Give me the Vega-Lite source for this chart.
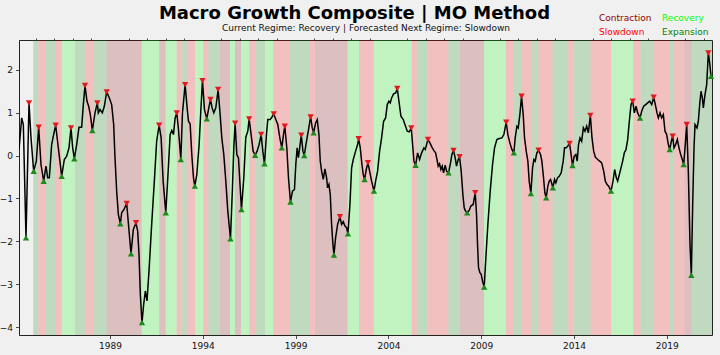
{
  "$schema": "https://vega.github.io/schema/vega-lite/v6.json",
  "width": 693,
  "height": 295,
  "autosize": {"type": "none"},
  "padding": {"left": 19, "top": 40, "right": 8, "bottom": 20},
  "background": "#f0f0f0",
  "title": {
    "text": "Macro Growth Composite | MO Method",
    "font": "DejaVu Sans",
    "fontSize": 18,
    "fontWeight": "bold",
    "color": "#000000",
    "anchor": "middle",
    "frame": "group",
    "dx": -11,
    "offset": -10
  },
  "resolve": {"axis": {"x": "independent"}},
  "datasets": {
    "bands": [
      {"s": 1984.867, "e": 1985.137, "r": "Expansion"},
      {"s": 1985.137, "e": 1985.498, "r": "Slowdown"},
      {"s": 1985.498, "e": 1986.037, "r": "Expansion"},
      {"s": 1986.037, "e": 1986.398, "r": "Slowdown"},
      {"s": 1986.398, "e": 1987.114, "r": "Recovery"},
      {"s": 1987.114, "e": 1987.653, "r": "Expansion"},
      {"s": 1987.653, "e": 1988.100, "r": "Slowdown"},
      {"s": 1988.100, "e": 1988.822, "r": "Expansion"},
      {"s": 1988.822, "e": 1990.708, "r": "Contraction"},
      {"s": 1990.708, "e": 1991.656, "r": "Recovery"},
      {"s": 1991.656, "e": 1992.001, "r": "Contraction"},
      {"s": 1992.001, "e": 1992.594, "r": "Recovery"},
      {"s": 1992.594, "e": 1992.863, "r": "Slowdown"},
      {"s": 1992.863, "e": 1993.133, "r": "Expansion"},
      {"s": 1993.133, "e": 1993.580, "r": "Slowdown"},
      {"s": 1993.580, "e": 1994.027, "r": "Recovery"},
      {"s": 1994.027, "e": 1994.296, "r": "Slowdown"},
      {"s": 1994.296, "e": 1994.927, "r": "Expansion"},
      {"s": 1994.927, "e": 1995.466, "r": "Contraction"},
      {"s": 1995.466, "e": 1995.735, "r": "Recovery"},
      {"s": 1995.735, "e": 1996.058, "r": "Contraction"},
      {"s": 1996.058, "e": 1996.505, "r": "Recovery"},
      {"s": 1996.505, "e": 1996.813, "r": "Slowdown"},
      {"s": 1996.813, "e": 1997.351, "r": "Expansion"},
      {"s": 1997.351, "e": 1997.799, "r": "Recovery"},
      {"s": 1997.799, "e": 1998.698, "r": "Slowdown"},
      {"s": 1998.698, "e": 1999.776, "r": "Expansion"},
      {"s": 1999.776, "e": 2000.045, "r": "Slowdown"},
      {"s": 2000.045, "e": 2001.807, "r": "Contraction"},
      {"s": 2001.807, "e": 2002.416, "r": "Recovery"},
      {"s": 2002.416, "e": 2003.213, "r": "Slowdown"},
      {"s": 2003.213, "e": 2005.255, "r": "Recovery"},
      {"s": 2005.255, "e": 2005.525, "r": "Slowdown"},
      {"s": 2005.525, "e": 2006.107, "r": "Expansion"},
      {"s": 2006.107, "e": 2007.227, "r": "Slowdown"},
      {"s": 2007.227, "e": 2007.858, "r": "Expansion"},
      {"s": 2007.858, "e": 2009.151, "r": "Contraction"},
      {"s": 2009.151, "e": 2010.336, "r": "Recovery"},
      {"s": 2010.336, "e": 2010.740, "r": "Slowdown"},
      {"s": 2010.740, "e": 2011.182, "r": "Expansion"},
      {"s": 2011.182, "e": 2011.683, "r": "Slowdown"},
      {"s": 2011.683, "e": 2012.077, "r": "Expansion"},
      {"s": 2012.077, "e": 2012.842, "r": "Slowdown"},
      {"s": 2012.842, "e": 2013.693, "r": "Expansion"},
      {"s": 2013.693, "e": 2013.973, "r": "Slowdown"},
      {"s": 2013.973, "e": 2014.889, "r": "Expansion"},
      {"s": 2014.889, "e": 2015.994, "r": "Slowdown"},
      {"s": 2015.994, "e": 2017.195, "r": "Recovery"},
      {"s": 2017.195, "e": 2017.583, "r": "Slowdown"},
      {"s": 2017.583, "e": 2018.294, "r": "Expansion"},
      {"s": 2018.294, "e": 2019.172, "r": "Slowdown"},
      {"s": 2019.172, "e": 2019.399, "r": "Expansion"},
      {"s": 2019.399, "e": 2019.954, "r": "Slowdown"},
      {"s": 2019.954, "e": 2020.331, "r": "Contraction"},
      {"s": 2020.331, "e": 2021.435, "r": "Expansion"}
    ],
    "series": [
      {"t": 1984.097, "v": 0.14},
      {"t": 1984.241, "v": 0.876},
      {"t": 1984.33, "v": 0.72},
      {"t": 1984.474, "v": -1.915, "m": "T"},
      {"t": 1984.636, "v": 1.225, "m": "P"},
      {"t": 1984.744, "v": 0.41},
      {"t": 1984.887, "v": -0.364, "m": "T"},
      {"t": 1985.031, "v": -0.13},
      {"t": 1985.157, "v": 0.659, "m": "P"},
      {"t": 1985.282, "v": -0.21},
      {"t": 1985.426, "v": -0.597, "m": "T"},
      {"t": 1985.552, "v": -0.248},
      {"t": 1985.642, "v": -0.519},
      {"t": 1985.731, "v": -0.519},
      {"t": 1985.857, "v": 0.256},
      {"t": 1985.947, "v": 0.45},
      {"t": 1986.073, "v": 0.705, "m": "P"},
      {"t": 1986.216, "v": 0.178},
      {"t": 1986.396, "v": -0.481, "m": "T"},
      {"t": 1986.539, "v": -0.093},
      {"t": 1986.665, "v": -0.016},
      {"t": 1986.791, "v": 0.178},
      {"t": 1986.899, "v": 0.643, "m": "P"},
      {"t": 1986.989, "v": 0.178},
      {"t": 1987.078, "v": -0.078, "m": "T"},
      {"t": 1987.204, "v": 0.256},
      {"t": 1987.33, "v": 0.659},
      {"t": 1987.473, "v": 0.659},
      {"t": 1987.563, "v": 1.186},
      {"t": 1987.653, "v": 1.628, "m": "P"},
      {"t": 1987.761, "v": 1.264},
      {"t": 1987.851, "v": 1.147},
      {"t": 1987.94, "v": 0.953},
      {"t": 1988.048, "v": 0.581, "m": "T"},
      {"t": 1988.192, "v": 0.992},
      {"t": 1988.318, "v": 1.225, "m": "P"},
      {"t": 1988.371, "v": 0.992},
      {"t": 1988.461, "v": 1.07},
      {"t": 1988.587, "v": 0.992},
      {"t": 1988.695, "v": 1.147},
      {"t": 1988.82, "v": 1.481, "m": "P"},
      {"t": 1988.964, "v": 1.341},
      {"t": 1989.09, "v": 1.186},
      {"t": 1989.198, "v": 0.721},
      {"t": 1989.269, "v": -0.054},
      {"t": 1989.359, "v": -0.829},
      {"t": 1989.449, "v": -1.372},
      {"t": 1989.557, "v": -1.589, "m": "T"},
      {"t": 1989.629, "v": -1.333},
      {"t": 1989.754, "v": -1.256},
      {"t": 1989.898, "v": -1.116, "m": "P"},
      {"t": 1989.988, "v": -1.566},
      {"t": 1990.131, "v": -2.287, "m": "T"},
      {"t": 1990.257, "v": -1.721},
      {"t": 1990.401, "v": -1.566, "m": "P"},
      {"t": 1990.491, "v": -1.76},
      {"t": 1990.563, "v": -2.302},
      {"t": 1990.634, "v": -3.233},
      {"t": 1990.724, "v": -3.891, "m": "T"},
      {"t": 1990.814, "v": -3.465},
      {"t": 1990.904, "v": -3.155},
      {"t": 1990.994, "v": -3.388},
      {"t": 1991.101, "v": -2.69},
      {"t": 1991.245, "v": -1.605},
      {"t": 1991.389, "v": -0.597},
      {"t": 1991.514, "v": 0.333},
      {"t": 1991.647, "v": 0.705, "m": "P"},
      {"t": 1991.755, "v": 0.411},
      {"t": 1991.863, "v": -0.597},
      {"t": 1992.006, "v": -1.333, "m": "T"},
      {"t": 1992.114, "v": -0.519},
      {"t": 1992.24, "v": 0.488},
      {"t": 1992.33, "v": 0.581},
      {"t": 1992.42, "v": 0.488},
      {"t": 1992.509, "v": 0.876},
      {"t": 1992.599, "v": 0.992, "m": "P"},
      {"t": 1992.689, "v": 0.605},
      {"t": 1992.815, "v": -0.093, "m": "T"},
      {"t": 1992.904, "v": 0.992},
      {"t": 1993.048, "v": 1.651, "m": "P"},
      {"t": 1993.156, "v": 1.109},
      {"t": 1993.228, "v": 0.798},
      {"t": 1993.318, "v": 0.736},
      {"t": 1993.407, "v": 0.023},
      {"t": 1993.497, "v": -0.519},
      {"t": 1993.569, "v": -0.713, "m": "T"},
      {"t": 1993.677, "v": -0.442},
      {"t": 1993.802, "v": 0.256},
      {"t": 1993.892, "v": 1.031},
      {"t": 1993.982, "v": 1.744, "m": "P"},
      {"t": 1994.09, "v": 1.07},
      {"t": 1994.216, "v": 0.853, "m": "T"},
      {"t": 1994.305, "v": 1.07},
      {"t": 1994.413, "v": 1.302, "m": "P"},
      {"t": 1994.503, "v": 1.109},
      {"t": 1994.593, "v": 0.992},
      {"t": 1994.7, "v": 1.109},
      {"t": 1994.826, "v": 1.535, "m": "P"},
      {"t": 1994.934, "v": 0.953},
      {"t": 1995.024, "v": 0.411},
      {"t": 1995.131, "v": 0.023},
      {"t": 1995.239, "v": -0.597},
      {"t": 1995.347, "v": -1.295},
      {"t": 1995.491, "v": -1.938, "m": "T"},
      {"t": 1995.598, "v": -0.752},
      {"t": 1995.67, "v": 0.178},
      {"t": 1995.742, "v": 0.752, "m": "P"},
      {"t": 1995.832, "v": 0.023},
      {"t": 1995.922, "v": -0.054},
      {"t": 1995.994, "v": -0.597},
      {"t": 1996.083, "v": -1.256, "m": "T"},
      {"t": 1996.209, "v": -0.519},
      {"t": 1996.317, "v": 0.426},
      {"t": 1996.425, "v": 0.566},
      {"t": 1996.496, "v": 0.853, "m": "P"},
      {"t": 1996.604, "v": 0.488},
      {"t": 1996.712, "v": 0.101},
      {"t": 1996.82, "v": 0.008, "m": "T"},
      {"t": 1996.927, "v": 0.101},
      {"t": 1997.035, "v": 0.256},
      {"t": 1997.143, "v": 0.488, "m": "P"},
      {"t": 1997.233, "v": 0.101},
      {"t": 1997.323, "v": -0.194, "m": "T"},
      {"t": 1997.43, "v": 0.488},
      {"t": 1997.502, "v": 0.837},
      {"t": 1997.628, "v": 0.837},
      {"t": 1997.718, "v": 0.891},
      {"t": 1997.825, "v": 0.969, "m": "P"},
      {"t": 1997.933, "v": 0.837},
      {"t": 1998.041, "v": 0.721},
      {"t": 1998.149, "v": 0.411},
      {"t": 1998.256, "v": 0.178, "m": "T"},
      {"t": 1998.346, "v": 0.488},
      {"t": 1998.418, "v": 0.682, "m": "P"},
      {"t": 1998.526, "v": 0.178},
      {"t": 1998.616, "v": -0.519},
      {"t": 1998.723, "v": -1.085, "m": "T"},
      {"t": 1998.831, "v": -0.829},
      {"t": 1998.939, "v": -0.791},
      {"t": 1999.011, "v": -0.209},
      {"t": 1999.083, "v": 0.178},
      {"t": 1999.15, "v": -0.05},
      {"t": 1999.22, "v": 0.18},
      {"t": 1999.305, "v": 0.473, "m": "P"},
      {"t": 1999.395, "v": 0.101},
      {"t": 1999.467, "v": 0.0, "m": "T"},
      {"t": 1999.557, "v": 0.256},
      {"t": 1999.682, "v": 0.566},
      {"t": 1999.808, "v": 0.899, "m": "P"},
      {"t": 1999.898, "v": 0.643},
      {"t": 1999.97, "v": 0.527, "m": "T"},
      {"t": 2000.078, "v": 0.76},
      {"t": 2000.167, "v": 0.837},
      {"t": 2000.257, "v": 0.488},
      {"t": 2000.329, "v": -0.132},
      {"t": 2000.401, "v": -0.364},
      {"t": 2000.491, "v": -0.558},
      {"t": 2000.58, "v": -0.31},
      {"t": 2000.67, "v": -0.519},
      {"t": 2000.724, "v": -0.752},
      {"t": 2000.796, "v": -0.674},
      {"t": 2000.868, "v": -0.907},
      {"t": 2000.94, "v": -1.605},
      {"t": 2001.011, "v": -2.07},
      {"t": 2001.065, "v": -2.318, "m": "T"},
      {"t": 2001.155, "v": -1.915},
      {"t": 2001.263, "v": -1.605},
      {"t": 2001.389, "v": -1.426, "m": "P"},
      {"t": 2001.478, "v": -1.605},
      {"t": 2001.568, "v": -1.543},
      {"t": 2001.658, "v": -1.643},
      {"t": 2001.748, "v": -1.682},
      {"t": 2001.82, "v": -1.822, "m": "T"},
      {"t": 2001.927, "v": -1.14},
      {"t": 2002.017, "v": -0.287},
      {"t": 2002.107, "v": -0.093},
      {"t": 2002.233, "v": 0.101},
      {"t": 2002.341, "v": 0.256},
      {"t": 2002.394, "v": 0.388, "m": "P"},
      {"t": 2002.484, "v": 0.178},
      {"t": 2002.574, "v": -0.209},
      {"t": 2002.646, "v": -0.442},
      {"t": 2002.718, "v": -0.558, "m": "T"},
      {"t": 2002.807, "v": -0.326},
      {"t": 2002.897, "v": -0.171, "m": "P"},
      {"t": 2002.987, "v": -0.364},
      {"t": 2003.095, "v": -0.597},
      {"t": 2003.221, "v": -0.829, "m": "T"},
      {"t": 2003.31, "v": -0.597},
      {"t": 2003.418, "v": -0.364},
      {"t": 2003.526, "v": 0.101},
      {"t": 2003.634, "v": 0.411},
      {"t": 2003.741, "v": 0.798},
      {"t": 2003.849, "v": 0.876},
      {"t": 2003.939, "v": 1.186},
      {"t": 2004.029, "v": 1.264},
      {"t": 2004.101, "v": 1.225},
      {"t": 2004.172, "v": 1.341},
      {"t": 2004.28, "v": 1.434},
      {"t": 2004.388, "v": 1.457},
      {"t": 2004.478, "v": 1.558, "m": "P"},
      {"t": 2004.568, "v": 1.264},
      {"t": 2004.675, "v": 0.915},
      {"t": 2004.801, "v": 0.837},
      {"t": 2004.891, "v": 0.721},
      {"t": 2005.016, "v": 0.566},
      {"t": 2005.124, "v": 0.55},
      {"t": 2005.232, "v": 0.643, "m": "P"},
      {"t": 2005.304, "v": 0.256},
      {"t": 2005.376, "v": -0.132},
      {"t": 2005.466, "v": -0.225, "m": "T"},
      {"t": 2005.573, "v": 0.062},
      {"t": 2005.681, "v": -0.093},
      {"t": 2005.789, "v": 0.062},
      {"t": 2005.914, "v": 0.178},
      {"t": 2005.986, "v": 0.14},
      {"t": 2006.13, "v": 0.372, "m": "P"},
      {"t": 2006.238, "v": 0.295},
      {"t": 2006.364, "v": 0.178},
      {"t": 2006.471, "v": 0.101},
      {"t": 2006.543, "v": 0.062},
      {"t": 2006.62, "v": -0.1},
      {"t": 2006.683, "v": -0.248},
      {"t": 2006.755, "v": -0.194},
      {"t": 2006.827, "v": -0.326},
      {"t": 2006.899, "v": -0.248},
      {"t": 2006.971, "v": -0.403},
      {"t": 2007.06, "v": -0.225},
      {"t": 2007.132, "v": -0.364},
      {"t": 2007.24, "v": -0.403, "m": "T"},
      {"t": 2007.348, "v": -0.171},
      {"t": 2007.42, "v": 0.023},
      {"t": 2007.509, "v": 0.116, "m": "P"},
      {"t": 2007.599, "v": -0.054},
      {"t": 2007.671, "v": -0.248},
      {"t": 2007.761, "v": -0.093},
      {"t": 2007.833, "v": -0.031, "m": "P"},
      {"t": 2007.922, "v": -0.364},
      {"t": 2008.012, "v": -0.907},
      {"t": 2008.084, "v": -1.217},
      {"t": 2008.156, "v": -1.295},
      {"t": 2008.246, "v": -1.333, "m": "T"},
      {"t": 2008.353, "v": -1.279},
      {"t": 2008.443, "v": -1.178},
      {"t": 2008.569, "v": -1.14},
      {"t": 2008.677, "v": -0.868, "m": "P"},
      {"t": 2008.749, "v": -1.372},
      {"t": 2008.802, "v": -2.07},
      {"t": 2008.856, "v": -2.612},
      {"t": 2008.928, "v": -2.729},
      {"t": 2009.0, "v": -2.767},
      {"t": 2009.09, "v": -2.961},
      {"t": 2009.162, "v": -3.062, "m": "T"},
      {"t": 2009.251, "v": -2.38},
      {"t": 2009.359, "v": -1.605},
      {"t": 2009.485, "v": -0.829},
      {"t": 2009.611, "v": -0.209},
      {"t": 2009.718, "v": 0.178},
      {"t": 2009.844, "v": 0.372},
      {"t": 2009.97, "v": 0.395},
      {"t": 2010.113, "v": 0.411},
      {"t": 2010.221, "v": 0.488},
      {"t": 2010.347, "v": 0.775, "m": "P"},
      {"t": 2010.437, "v": 0.488},
      {"t": 2010.545, "v": 0.295},
      {"t": 2010.652, "v": 0.14},
      {"t": 2010.76, "v": 0.062, "m": "T"},
      {"t": 2010.832, "v": 0.411},
      {"t": 2010.922, "v": 0.682},
      {"t": 2010.994, "v": 0.643},
      {"t": 2011.083, "v": 0.953},
      {"t": 2011.173, "v": 1.38, "m": "P"},
      {"t": 2011.263, "v": 0.953},
      {"t": 2011.335, "v": 0.411},
      {"t": 2011.425, "v": 0.101},
      {"t": 2011.514, "v": -0.132},
      {"t": 2011.586, "v": -0.597},
      {"t": 2011.676, "v": -0.884, "m": "T"},
      {"t": 2011.766, "v": -0.287},
      {"t": 2011.838, "v": -0.093},
      {"t": 2011.909, "v": -0.132},
      {"t": 2011.999, "v": 0.062},
      {"t": 2012.089, "v": 0.124, "m": "P"},
      {"t": 2012.197, "v": 0.023},
      {"t": 2012.269, "v": -0.132},
      {"t": 2012.358, "v": -0.519},
      {"t": 2012.43, "v": -0.868},
      {"t": 2012.502, "v": -0.984, "m": "T"},
      {"t": 2012.592, "v": -0.713},
      {"t": 2012.664, "v": -0.597},
      {"t": 2012.736, "v": -0.558},
      {"t": 2012.79, "v": -0.636},
      {"t": 2012.861, "v": -0.752, "m": "T"},
      {"t": 2012.951, "v": -0.558},
      {"t": 2013.023, "v": -0.636},
      {"t": 2013.113, "v": -0.519},
      {"t": 2013.203, "v": -0.481},
      {"t": 2013.31, "v": -0.403},
      {"t": 2013.418, "v": -0.132},
      {"t": 2013.49, "v": 0.178},
      {"t": 2013.58, "v": 0.178},
      {"t": 2013.652, "v": 0.217},
      {"t": 2013.759, "v": 0.279, "m": "P"},
      {"t": 2013.831, "v": 0.062},
      {"t": 2013.921, "v": -0.233, "m": "T"},
      {"t": 2014.011, "v": -0.016},
      {"t": 2014.101, "v": 0.023},
      {"t": 2014.172, "v": -0.132},
      {"t": 2014.244, "v": 0.256},
      {"t": 2014.323, "v": 0.411},
      {"t": 2014.413, "v": 0.333},
      {"t": 2014.503, "v": 0.643},
      {"t": 2014.593, "v": 0.566},
      {"t": 2014.683, "v": 0.682},
      {"t": 2014.772, "v": 0.527},
      {"t": 2014.88, "v": 0.93, "m": "P"},
      {"t": 2014.97, "v": 0.411},
      {"t": 2015.06, "v": 0.101},
      {"t": 2015.15, "v": -0.039},
      {"t": 2015.275, "v": -0.093},
      {"t": 2015.383, "v": -0.132},
      {"t": 2015.491, "v": -0.171},
      {"t": 2015.599, "v": -0.364},
      {"t": 2015.688, "v": -0.597},
      {"t": 2015.778, "v": -0.674},
      {"t": 2015.868, "v": -0.713},
      {"t": 2015.994, "v": -0.829, "m": "T"},
      {"t": 2016.101, "v": -0.597},
      {"t": 2016.191, "v": -0.326},
      {"t": 2016.281, "v": -0.519},
      {"t": 2016.353, "v": -0.597},
      {"t": 2016.443, "v": -0.442},
      {"t": 2016.532, "v": -0.287},
      {"t": 2016.622, "v": -0.132},
      {"t": 2016.712, "v": 0.062},
      {"t": 2016.802, "v": 0.14},
      {"t": 2016.892, "v": 0.372},
      {"t": 2016.981, "v": 0.798},
      {"t": 2017.071, "v": 1.186},
      {"t": 2017.161, "v": 1.264, "m": "P"},
      {"t": 2017.251, "v": 0.992},
      {"t": 2017.341, "v": 1.147},
      {"t": 2017.43, "v": 0.992},
      {"t": 2017.556, "v": 0.876, "m": "T"},
      {"t": 2017.646, "v": 1.031},
      {"t": 2017.754, "v": 1.147},
      {"t": 2017.862, "v": 1.186},
      {"t": 2017.969, "v": 1.225},
      {"t": 2018.077, "v": 1.264},
      {"t": 2018.185, "v": 1.186},
      {"t": 2018.292, "v": 1.357, "m": "P"},
      {"t": 2018.382, "v": 1.186},
      {"t": 2018.472, "v": 0.992},
      {"t": 2018.544, "v": 0.876},
      {"t": 2018.634, "v": 0.992},
      {"t": 2018.723, "v": 0.876},
      {"t": 2018.813, "v": 0.953},
      {"t": 2018.903, "v": 0.566},
      {"t": 2018.993, "v": 0.488},
      {"t": 2019.083, "v": 0.256},
      {"t": 2019.155, "v": 0.14, "m": "T"},
      {"t": 2019.245, "v": 0.333},
      {"t": 2019.316, "v": 0.45, "m": "P"},
      {"t": 2019.388, "v": 0.178},
      {"t": 2019.478, "v": 0.256},
      {"t": 2019.568, "v": 0.372},
      {"t": 2019.657, "v": 0.178},
      {"t": 2019.747, "v": 0.023},
      {"t": 2019.837, "v": -0.093},
      {"t": 2019.909, "v": -0.209, "m": "T"},
      {"t": 2019.981, "v": 0.178},
      {"t": 2020.071, "v": 0.721, "m": "P"},
      {"t": 2020.16, "v": -0.364},
      {"t": 2020.25, "v": -2.07},
      {"t": 2020.322, "v": -2.791, "m": "T"},
      {"t": 2020.394, "v": -1.14},
      {"t": 2020.466, "v": 0.178},
      {"t": 2020.52, "v": 0.721},
      {"t": 2020.627, "v": 0.643},
      {"t": 2020.699, "v": 0.798},
      {"t": 2020.771, "v": 1.186},
      {"t": 2020.843, "v": 1.496},
      {"t": 2020.915, "v": 1.341},
      {"t": 2020.969, "v": 1.109},
      {"t": 2021.058, "v": 1.419},
      {"t": 2021.148, "v": 1.651},
      {"t": 2021.238, "v": 2.388, "m": "P"},
      {"t": 2021.31, "v": 2.155},
      {"t": 2021.382, "v": 1.845, "m": "T"}
    ]
  },
  "layer": [
    {
      "data": {"name": "bands"},
      "mark": {"type": "rect", "opacity": 0.2, "clip": true},
      "encoding": {
        "x": {
          "field": "s",
          "type": "quantitative",
          "title": null,
          "scale": {"domain": [1984.097, 2021.435], "nice": false, "zero": false},
          "axis": {
            "values": [1989, 1994, 1999, 2004, 2009, 2014, 2019],
            "format": "d",
            "tickSize": 3.5,
            "labelPadding": 3,
            "labelFlush": false,
            "labelOverlap": false
          }
        },
        "x2": {"field": "e"},
        "color": {
          "field": "r",
          "type": "nominal",
          "scale": {
            "domain": ["Contraction", "Slowdown", "Recovery", "Expansion"],
            "range": ["#8b0000", "#ff0000", "#00ff00", "#008000"]
          },
          "legend": {
            "title": null,
            "orient": "none",
            "legendX": 571,
            "legendY": -27,
            "columns": 2,
            "symbolSize": 0,
            "symbolOpacity": 0,
            "symbolStrokeWidth": 0,
            "labelOffset": 0,
            "labelFont": "DejaVu Sans",
            "labelFontSize": 9,
            "columnPadding": 1,
            "rowPadding": 4,
            "encode": {
              "labels": {"update": {"fill": {"scale": "color", "field": "value"}}}
            }
          }
        }
      }
    },
    {
      "mark": {"type": "rule", "color": "#808080", "strokeWidth": 1, "strokeDash": [4, 3]},
      "encoding": {"y": {"datum": 0, "type": "quantitative"}}
    },
    {
      "data": {"name": "series"},
      "mark": {"type": "line", "color": "#000000", "strokeWidth": 1.5, "clip": true},
      "encoding": {
        "x": {
          "field": "t",
          "type": "quantitative",
          "title": null,
          "axis": {
            "values": [1985, 1986, 1987, 1988, 1990, 1991, 1992, 1993, 1995, 1996, 1997, 1998, 2000, 2001, 2002, 2003, 2005, 2006, 2007, 2008, 2010, 2011, 2012, 2013, 2015, 2016, 2017, 2018, 2020, 2021],
            "labels": false,
            "tickSize": 2
          }
        },
        "y": {
          "field": "v",
          "type": "quantitative",
          "title": null,
          "scale": {"domain": [-4.18, 2.69], "nice": false, "zero": false},
          "axis": {"values": [-4, -3, -2, -1, 0, 1, 2], "format": "d", "tickSize": 3.5, "labelPadding": 3}
        }
      }
    },
    {
      "data": {"name": "series"},
      "transform": [{"filter": "datum.m == 'P'"}],
      "mark": {"type": "point", "shape": "triangle-down", "filled": true, "color": "#e3181e", "size": 40, "opacity": 1},
      "encoding": {
        "x": {
          "field": "t",
          "type": "quantitative",
          "axis": {
            "orient": "top",
            "title": "Current Regime: Recovery | Forecasted Next Regime: Slowdown",
            "labels": false,
            "ticks": false,
            "domain": false,
            "titleFont": "DejaVu Sans",
            "titleFontSize": 9,
            "titleFontWeight": "normal",
            "titleColor": "#111111",
            "titlePadding": 8
          }
        },
        "y": {"field": "v", "type": "quantitative", "title": null}
      }
    },
    {
      "data": {"name": "series"},
      "transform": [{"filter": "datum.m == 'T'"}],
      "mark": {"type": "point", "shape": "triangle-up", "filled": true, "color": "#1a8a1a", "size": 40, "opacity": 1},
      "encoding": {
        "x": {"field": "t", "type": "quantitative", "title": null, "axis": null},
        "y": {"field": "v", "type": "quantitative", "title": null}
      }
    }
  ],
  "config": {
    "font": "DejaVu Sans",
    "view": {"stroke": "#222222", "strokeWidth": 1, "fill": "#f0f0f0"},
    "axis": {
      "labelFont": "DejaVu Sans",
      "labelFontSize": 9,
      "labelColor": "#111111",
      "tickColor": "#222222",
      "tickWidth": 0.8,
      "domain": false,
      "grid": false
    }
  }
}
